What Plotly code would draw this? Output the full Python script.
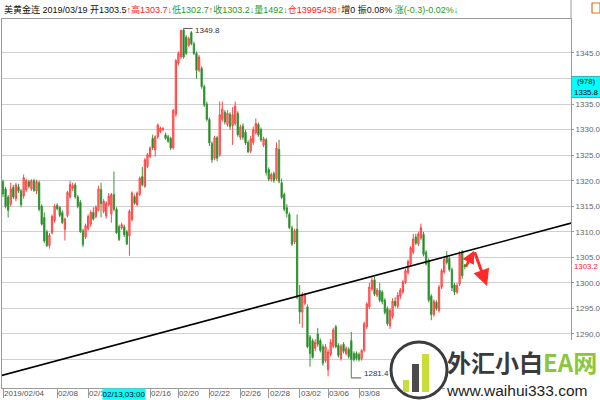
import plotly.graph_objects as go

# ---------------- data ----------------
OPEN = [1319.8,1318.4,1316.8,1315.4,1318.7,1316.5,1318.8,1318.0,1317.0,1318.2,
        1319.8,1318.4,1320.0,1318.0,1319.6,1315.0,1312.8,1310.0,1307.3,1309.8,
        1312.2,1315.2,1314.8,1313.8,1310.5,1313.2,1316.8,1318.5,1319.2,1316.8,
        1315.8,1310.2,1309.0,1310.6,1311.5,1313.8,1313.0,1314.2,1318.3,1314.0,
        1313.1,1315.3,1313.5,1317.3,1314.4,1311.0,1310.8,1311.0,1310.0,1309.2,
        1312.4,1316.9,1315.3,1317.3,1320.8,1318.9,1322.8,1324.7,1328.3,1326.0,
        1328.6,1329.6,1330.0,1329.0,1328.6,1328.3,1326.4,1333.0,1343.0,1344.2,
        1349.5,1348.1,1346.5,1349.0,1346.8,1344.9,1341.6,1342.0,1338.4,1335.0,
        1332.0,1327.3,1324.4,1328.4,1325.1,1332.0,1333.4,1331.0,1333.0,1330.8,
        1331.2,1333.2,1328.5,1330.7,1329.5,1327.5,1325.8,1327.5,1329.4,1331.0,
        1330.0,1327.0,1328.0,1322.2,1320.3,1321.4,1320.4,1326.1,1319.6,1317.3,
        1314.7,1313.4,1310.8,1308.0,1310.5,1297.2,1294.3,1296.0,1295.3,1289.4,
        1288.7,1287.2,1290.0,1288.7,1287.5,1284.8,1283.0,1286.0,1287.6,1291.4,
        1287.8,1285.2,1288.0,1286.2,1287.0,1288.7,1286.2,1286.2,1286.0,1285.2,
        1286.8,1291.4,1295.3,1298.8,1300.6,1297.6,1298.5,1298.2,1296.6,1295.0,
        1291.6,1293.4,1296.4,1295.4,1297.4,1298.2,1300.1,1302.0,1303.7,1306.0,
        1309.0,1307.6,1308.8,1309.5,1306.0,1304.4,1297.4,1293.8,1296.2,1294.6,
        1299.2,1302.1,1305.2,1304.8,1302.6,1299.6,1298.2,1299.8,1306.0,1303.5]
HIGH = [1320.2,1318.8,1317.2,1319.6,1319.2,1319.6,1319.4,1318.4,1321.2,1320.4,
        1320.2,1320.3,1320.4,1320.2,1320.0,1315.4,1313.8,1310.4,1309.8,1313.4,
        1315.4,1315.6,1315.0,1314.2,1312.8,1318.0,1320.0,1319.6,1319.6,1317.2,
        1316.2,1310.6,1311.6,1313.4,1314.2,1314.8,1315.2,1319.0,1319.6,1316.4,
        1316.0,1317.6,1317.6,1321.8,1314.8,1311.4,1311.8,1311.4,1310.4,1314.4,
        1317.9,1317.3,1317.9,1320.8,1322.7,1324.4,1325.4,1326.7,1329.0,1328.9,
        1331.2,1330.6,1330.5,1329.4,1329.0,1328.6,1334.0,1343.8,1345.3,1349.6,
        1349.8,1348.5,1348.2,1349.3,1347.2,1345.3,1344.6,1342.4,1338.8,1335.5,
        1332.4,1327.7,1328.8,1328.8,1335.5,1335.5,1333.8,1333.8,1333.4,1334.4,
        1335.5,1333.6,1331.0,1331.2,1330.0,1327.9,1328.8,1330.6,1332.2,1331.4,
        1330.4,1328.6,1328.4,1322.6,1321.6,1321.8,1327.5,1328.0,1320.4,1317.7,
        1315.4,1313.8,1311.2,1310.6,1313.4,1299.6,1298.2,1298.0,1295.8,1289.8,
        1289.1,1289.0,1291.2,1289.1,1288.0,1288.0,1287.0,1289.0,1291.2,1291.8,
        1288.2,1288.0,1288.4,1287.6,1287.4,1290.4,1286.6,1286.6,1286.4,1287.0,
        1292.4,1296.2,1300.0,1301.1,1301.2,1299.0,1300.0,1298.6,1297.0,1295.4,
        1295.0,1297.0,1297.2,1298.2,1299.0,1300.6,1302.8,1304.6,1307.2,1309.6,
        1309.6,1310.0,1311.6,1310.0,1306.4,1304.8,1297.8,1296.8,1296.6,1299.6,
        1302.8,1305.0,1306.2,1305.2,1303.0,1300.0,1300.0,1306.2,1306.4,1303.7]
LOW = [1316.8,1314.6,1312.8,1315.0,1316.4,1316.0,1317.6,1314.8,1316.5,1317.8,
       1318.5,1318.0,1317.8,1317.4,1314.0,1311.2,1307.8,1307.0,1306.7,1309.5,
       1311.8,1314.2,1312.9,1311.5,1308.3,1312.8,1316.5,1318.0,1316.5,1314.6,
       1309.8,1307.0,1308.6,1310.2,1311.0,1312.2,1312.6,1314.0,1312.8,1313.6,
       1312.6,1315.0,1311.8,1314.0,1309.6,1308.2,1310.4,1309.0,1307.4,1305.3,
       1312.0,1315.3,1315.0,1317.0,1318.9,1318.6,1322.5,1324.4,1326.0,1324.7,
       1328.2,1329.3,1329.7,1328.0,1327.4,1326.0,1326.1,1332.5,1342.6,1343.8,
       1343.9,1344.6,1346.2,1346.5,1344.6,1340.0,1341.2,1338.0,1334.4,1331.6,
       1326.8,1323.5,1324.0,1323.8,1324.7,1331.6,1331.0,1330.6,1330.0,1327.0,
       1330.8,1328.6,1328.0,1328.0,1327.0,1325.5,1325.4,1327.0,1329.0,1328.6,
       1327.6,1326.6,1321.0,1319.9,1319.8,1319.6,1320.0,1319.5,1316.4,1314.0,
       1312.8,1310.5,1307.2,1307.6,1296.8,1292.0,1291.2,1295.6,1287.2,1283.6,
       1285.2,1286.6,1287.5,1286.4,1283.8,1284.4,1281.7,1285.6,1287.2,1287.2,
       1285.4,1284.8,1286.2,1285.8,1285.2,1281.4,1284.6,1284.8,1284.6,1284.8,
       1286.4,1291.0,1294.9,1298.4,1297.4,1297.2,1296.2,1295.8,1293.8,1291.6,
       1291.0,1293.0,1295.2,1295.0,1296.8,1297.8,1299.8,1301.6,1303.3,1305.6,
       1307.4,1307.2,1308.4,1305.2,1303.4,1296.2,1292.7,1293.4,1294.6,1294.2,
       1298.8,1301.8,1303.6,1302.2,1298.4,1297.6,1297.8,1299.4,1300.8,1302.7]
CLOSE = [1317.4,1315.0,1314.2,1318.4,1316.8,1319.2,1318.0,1315.3,1320.6,1320.0,
         1318.9,1320.0,1318.1,1319.8,1314.4,1311.5,1308.2,1307.3,1309.3,1313.0,
         1315.0,1314.5,1313.2,1311.8,1312.5,1317.7,1319.3,1319.0,1316.8,1315.0,
         1310.0,1307.5,1311.2,1313.0,1313.8,1312.5,1314.8,1318.4,1315.5,1316.0,
         1315.6,1317.0,1317.3,1314.4,1309.8,1308.5,1311.4,1309.4,1307.6,1314.0,
         1317.6,1315.6,1317.6,1320.5,1319.2,1324.1,1325.1,1326.4,1326.4,1328.6,
         1330.9,1330.3,1330.2,1328.3,1327.7,1326.4,1333.8,1343.5,1344.9,1349.4,
         1344.2,1344.9,1347.8,1346.8,1344.9,1341.6,1344.2,1338.4,1334.8,1332.0,
         1327.4,1324.1,1328.4,1324.4,1332.9,1334.0,1331.5,1333.2,1330.6,1332.9,
         1334.6,1329.0,1330.5,1328.5,1327.4,1325.6,1328.2,1330.0,1331.2,1329.0,
         1328.0,1328.2,1321.6,1320.3,1321.2,1320.0,1326.4,1319.9,1316.7,1314.4,
         1313.6,1310.8,1307.6,1310.2,1297.2,1294.3,1297.5,1297.6,1287.5,1286.2,
         1285.4,1288.4,1288.0,1286.8,1284.3,1287.5,1286.5,1288.4,1290.8,1287.5,
         1285.8,1287.6,1286.6,1287.2,1285.6,1285.0,1285.0,1285.2,1285.0,1286.8,
         1292.0,1295.9,1299.2,1300.5,1297.8,1298.6,1296.6,1296.3,1294.2,1292.0,
         1294.6,1296.4,1295.6,1297.6,1298.6,1300.2,1302.4,1304.2,1306.9,1308.6,
         1307.8,1309.6,1310.8,1305.6,1303.7,1296.6,1293.8,1296.4,1295.0,1299.2,
         1302.4,1304.6,1304.0,1302.6,1299.0,1298.2,1299.5,1305.6,1301.4,1303.2]

TICK_IDX = [0, 21, 33, 57, 68, 80, 92, 103, 115, 126, 138]
TICK_TEXT = ["2019/02/04", "02/08", "02/12", "02/16", "02/20", "02/22",
             "02/26", "02/28", "03/02", "03/06", "03/08"]
Y_TICKS = [1285, 1290, 1295, 1300, 1305, 1310, 1315, 1320, 1325, 1330, 1335, 1340, 1345]
# levels whose axis label is covered by an overlay in the reference
Y_COVERED = [1285, 1340]

TREND_X = [-1.2, 220.2]
TREND_Y = [1281.8, 1311.7]
ARROW_X = [179.1, 182.6, 187.6]
ARROW_Y = [1302.9, 1306.3, 1299.4]

CURSOR_DATE = "02/13,03:00"
CURSOR_VOL = 978
CURSOR_PRICE = 1335.8

HEADER = [("美黄金连 2019/03/19 开1303.5", "#111111"), ("↑", "#ff2020"),
          ("高1303.7", "#ff2020"), ("↓", "#ff2020"), ("低1302.7", "#1f9a1f"),
          ("↑", "#ff2020"), ("收1303.2", "#1f9a1f"), ("↓", "#1f9a1f"),
          ("量1492", "#1f9a1f"), ("↓", "#1f9a1f"), ("仓13995438", "#ff2020"),
          ("↑", "#ff2020"), ("增0 振0.08% ", "#111111"),
          ("涨(-0.3)-0.02%", "#1f9a1f"), ("↓", "#1f9a1f")]

# ---------------- geometry ----------------
W, H = 600, 400
L_PX, R_PX, T_PX, B_PX = 2, 571, 19, 388
STEP = 2.58
X_LO = (L_PX - 3) / STEP
X_HI = (R_PX - 3) / STEP
Y_LO, Y_HI = 1279.43, 1351.65
GRID = "#cfcfcf"


def px(x):
    return (x - L_PX) / (R_PX - L_PX)


def py(y):
    return (B_PX - y) / (B_PX - T_PX)


N = len(CLOSE)
xs = list(range(N))

fig = go.Figure()
fig.add_trace(go.Candlestick(
    x=xs, open=OPEN, high=HIGH, low=LOW, close=CLOSE,
    increasing=dict(line=dict(color="#ff4545", width=1), fillcolor="#ff8585"),
    decreasing=dict(line=dict(color="#379637", width=1), fillcolor="#0b7a0b"),
    whiskerwidth=0, showlegend=False, hoverinfo="skip"))

fig.add_trace(go.Scatter(x=TREND_X, y=TREND_Y, mode="lines",
                         line=dict(color="#000000", width=1.6),
                         showlegend=False, hoverinfo="skip"))

FONT = "Liberation Sans, Arial, Noto Sans CJK SC, sans-serif"
CJK = "Noto Sans CJK SC, Liberation Sans, sans-serif"

ann = []
# x-axis labels
for i, t in zip(TICK_IDX, TICK_TEXT):
    ann.append(dict(x=i, xref="x", y=py(393.5), yref="paper", text=t,
                    xanchor="left", yanchor="middle", showarrow=False,
                    borderpad=0,
                    font=dict(family=FONT, size=8, color="#555555")))
# cursor date box
ann.append(dict(x=px(124), xref="paper", y=py(394), yref="paper", text=CURSOR_DATE,
                xanchor="center", yanchor="middle", showarrow=False,
                bgcolor="#00ffff", width=42, height=10, borderpad=0,
                font=dict(family=FONT, size=8, color="#000000")))
# cursor price box
ann.append(dict(x=px(585.5), xref="paper", y=py(87), yref="paper",
                text=f"({CURSOR_VOL})<br>{CURSOR_PRICE:.1f}",
                xanchor="center", yanchor="middle", showarrow=False,
                bgcolor="#00ffff", bordercolor="#30b8b8", borderwidth=1,
                width=28, height=20, borderpad=0,
                font=dict(family=FONT, size=7.8, color="#000000")))
# last price on axis
ann.append(dict(x=px(586), xref="paper", y=CLOSE[-1], yref="y",
                text=f"{CLOSE[-1]:.1f}", xanchor="center", yanchor="middle",
                showarrow=False, bgcolor="#ffffff", borderpad=0,
                font=dict(family=FONT, size=7.8, color="#ff2020")))
# peak & trough labels
ipk = max(range(N), key=lambda k: HIGH[k])
ilo = min(range(N), key=lambda k: LOW[k])
ann.append(dict(x=ipk + 3.6, xref="x", y=HIGH[ipk], yref="y", text=f"{HIGH[ipk]:.1f}",
                xanchor="left", yanchor="middle", showarrow=False, yshift=-2,
                font=dict(family=FONT, size=8, color="#333333")))
ann.append(dict(x=ilo + 4.0, xref="x", y=LOW[ilo], yref="y", text=f"{LOW[ilo]:.1f}",
                xanchor="left", yanchor="middle", showarrow=False, yshift=4,
                font=dict(family=FONT, size=8, color="#333333")))
# header
htxt = "".join(f"<span style='color:{c}'>{t}</span>" for t, c in HEADER)
ann.append(dict(x=px(2), xref="paper", y=py(9), yref="paper", text=htxt,
                xanchor="left", yanchor="middle", showarrow=False,
                font=dict(family=FONT, size=9, color="#111111")))
# red arrows
ann.append(dict(x=ARROW_X[1], y=ARROW_Y[1], ax=ARROW_X[0], ay=ARROW_Y[0],
                xref="x", yref="y", axref="x", ayref="y", text="", showarrow=True,
                arrowhead=2, arrowsize=1.0, arrowwidth=2.5, arrowcolor="#ff2a2a"))
ann.append(dict(x=ARROW_X[2], y=ARROW_Y[2], ax=ARROW_X[1], ay=ARROW_Y[1],
                xref="x", yref="y", axref="x", ayref="y", text="", showarrow=True,
                arrowhead=2, arrowsize=1.1, arrowwidth=3, arrowcolor="#ff2a2a"))
# watermark logo text
ann.append(dict(x=px(445), xref="paper", y=py(361), yref="paper",
                text="<b><span style='color:#3a3a3a'>外汇小白</span>"
                     "<span style='color:#8cc63f'>EA网</span></b>",
                xanchor="left", yanchor="middle", showarrow=False,
                font=dict(family=CJK, size=24)))
ann.append(dict(x=px(445), xref="paper", y=py(390), yref="paper",
                text="www.waihui333.com", xanchor="left", yanchor="middle",
                showarrow=False, borderpad=0,
                font=dict(family=FONT, size=15.5, color="#222222")))

shapes = []
# grid lines at levels whose labels are hidden under overlays
for v in Y_COVERED:
    shapes.append(dict(type="line", xref="paper", yref="y", x0=0, x1=1, y0=v, y1=v,
                       line=dict(color=GRID, width=1), layer="below"))
shapes += [
    # leader lines
    dict(type="line", xref="x", yref="y", x0=ipk, x1=ipk + 3.5, y0=HIGH[ipk], y1=HIGH[ipk],
         line=dict(color="#555555", width=1)),
    dict(type="line", xref="x", yref="y", x0=ilo, x1=ilo + 3.8, y0=LOW[ilo], y1=LOW[ilo],
         line=dict(color="#555555", width=1)),
    # axis line continuing into header
    dict(type="line", xref="paper", yref="paper", x0=1, x1=1, y0=py(19), y1=py(0),
         line=dict(color="#9a9a9a", width=1)),
    # top-right icon
    dict(type="rect", xref="paper", yref="paper", x0=px(592), x1=px(600),
         y0=py(13), y1=py(3), line=dict(color="#e07020", width=1.2)),
    # logo background
    dict(type="rect", xref="paper", yref="paper", x0=px(445), x1=px(600),
         y0=py(400), y1=py(340), fillcolor="#ffffff", line=dict(width=0), layer="above"),
    # logo circle
    dict(type="circle", xref="paper", yref="paper", x0=px(391), x1=px(447),
         y0=py(398), y1=py(342), fillcolor="#ffffff",
         line=dict(color="#3c3c3c", width=3), layer="above"),
    dict(type="rect", xref="paper", yref="paper", x0=px(403), x1=px(409),
         y0=py(392), y1=py(380), fillcolor="#c8dc3a", line=dict(width=0), layer="above"),
    dict(type="rect", xref="paper", yref="paper", x0=px(412), x1=px(419),
         y0=py(392), y1=py(364), fillcolor="#4a4a4a", line=dict(width=0), layer="above"),
    dict(type="rect", xref="paper", yref="paper", x0=px(422), x1=px(429),
         y0=py(392), y1=py(354), fillcolor="#c8dc3a", line=dict(width=0), layer="above"),
]

label_ticks = [v for v in Y_TICKS if v not in Y_COVERED]

fig.update_layout(
    template="none",
    width=W, height=H,
    margin=dict(l=L_PX, r=W - R_PX, t=T_PX, b=H - B_PX, pad=0, autoexpand=False),
    paper_bgcolor="#ffffff", plot_bgcolor="#ffffff",
    showlegend=False, hovermode=False,
    annotations=ann, shapes=shapes,
    xaxis=dict(range=[X_LO, X_HI], showgrid=False, zeroline=False, automargin=False,
               showline=True, linecolor="#9a9a9a", linewidth=1, mirror=True,
               ticks="outside", ticklen=9, tickcolor="#9a9a9a", tickwidth=1,
               tickvals=TICK_IDX, showticklabels=False,
               rangeslider=dict(visible=False), fixedrange=True),
    yaxis=dict(range=[Y_LO, Y_HI], side="right", tickvals=label_ticks, automargin=False,
               tickformat=".1f", showgrid=True, gridcolor=GRID, gridwidth=1,
               zeroline=False, showline=True, linecolor="#9a9a9a", linewidth=1,
               mirror=True, ticks="outside", ticklen=2, tickcolor="#9a9a9a", tickwidth=1,
               tickfont=dict(family=FONT, size=8, color="#666666"),
               fixedrange=True),
)

fig.write_html(
    "out.html",
    config={"displayModeBar": False, "staticPlot": True},
    post_script="document.body.style.margin='0';document.body.style.padding='0';",
)
